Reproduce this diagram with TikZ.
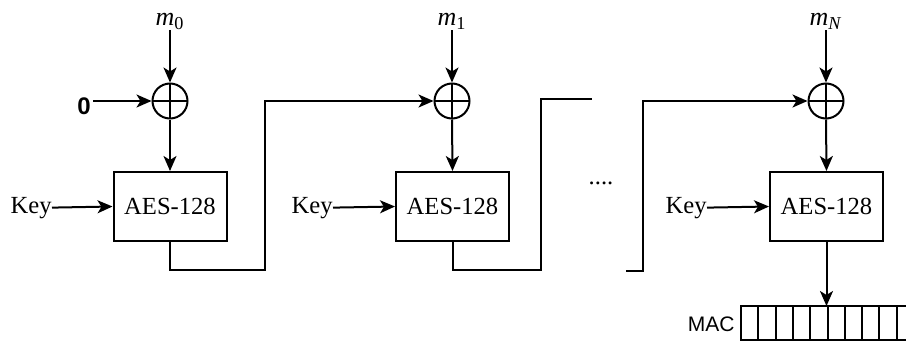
\documentclass[tikz,border=0pt]{standalone}
\usepackage{fontspec}
\setmainfont{Liberation Serif}
\setsansfont{Liberation Sans}
\usetikzlibrary{arrows.meta}
\tikzset{
  wire/.style={line width=1pt, black},
  arr/.style={wire, -{Stealth[length=7.5pt,width=6.5pt,inset=2pt]}},
  xorgate/.style={circle, draw, line width=1pt, minimum size=17.5pt, inner sep=0pt,
    path picture={\draw[line width=1pt] (path picture bounding box.north) -- (path picture bounding box.south)
      (path picture bounding box.west) -- (path picture bounding box.east);}},
  aesbox/.style={draw, line width=1pt, minimum width=56.5pt, minimum height=34.5pt, inner sep=0pt,
    font=\fontsize{12.3}{14}\selectfont},
  keylbl/.style={anchor=east, inner sep=0pt, font=\fontsize{12.3}{14}\selectfont},
  mlbl/.style={anchor=south, inner sep=0pt, font=\fontsize{13}{15}\selectfont},
}
\begin{document}
\begin{tikzpicture}[x=0.5pt, y=-0.5pt]
\useasboundingbox (0,0) rectangle (906,343);
% stage 1
\node[xorgate] (xor1) at (170,101) {};
\node[aesbox] (box1) at (170,206.5) {AES-128};
\node[mlbl] (m0) at (170,30) {\textit{m}\textsubscript{0}};
\node[keylbl] (key1) at (52,208) {Key};
\node[anchor=east, inner sep=0pt, font=\sffamily\bfseries\fontsize{12}{14}\selectfont] (zero) at (91,106) {0};
\draw[arr] (m0) -- (xor1.north);
\draw[arr] ([xshift=1pt]zero.east |- xor1.west) -- (xor1.west);
\draw[arr] (xor1.south) -- (box1.north);
\draw[arr] (key1) -- (box1.west);
% stage 2
\node[xorgate] (xor2) at (452,101) {};
\node[aesbox] (box2) at (452.5,206.5) {AES-128};
\node[mlbl] (m1) at (452,30) {\textit{m}\textsubscript{1}};
\node[keylbl] (key2) at (333,208) {Key};
\draw[arr] (m1) -- (xor2.north);
\draw[arr] (xor2.south) -- (box2.north);
\draw[arr] (key2) -- (box2.west);
% stage 3
\node[xorgate] (xor3) at (826,101) {};
\node[aesbox] (box3) at (826.5,206.5) {AES-128};
\node[mlbl] (mN) at (826,30) {\textit{m}\textsubscript{\textit{N}}};
\node[keylbl] (key3) at (707,208) {Key};
\draw[arr] (mN) -- (xor3.north);
\draw[arr] (xor3.south) -- (box3.north);
\draw[arr] (key3) -- (box3.west);
% chaining wires
\coordinate (c1) at (265,270);
\draw[arr] (box1.south) |- (c1) |- (xor2.west);
\coordinate (c2) at (541,270);
\coordinate (c2e) at (592,99);
\draw[wire] (box2.south) |- (c2) |- (c2e);
\coordinate (c3s) at (626,271);
\coordinate (c3) at (643,271);
\draw[arr] (c3s) -- (c3) |- (xor3.west);
% dots
\node[inner sep=0pt, font=\fontsize{12.3}{14}\selectfont] (dots) at (601,183) {....};
% MAC register
\coordinate (reg) at (826.5,306);
\begin{scope}
\clip (0,0) rectangle (906,343);
\draw[wire] (741,306) rectangle (914,340);
\foreach \i in {1,...,9} { \draw[wire] (741+17.3*\i,306) -- (741+17.3*\i,340); }
\end{scope}
\node[anchor=east, inner sep=0pt, font=\sffamily\fontsize{10.5}{12}\selectfont] (mac) at (735,324) {MAC};
\draw[arr] (box3.south) -- (reg);
\end{tikzpicture}
\end{document}
